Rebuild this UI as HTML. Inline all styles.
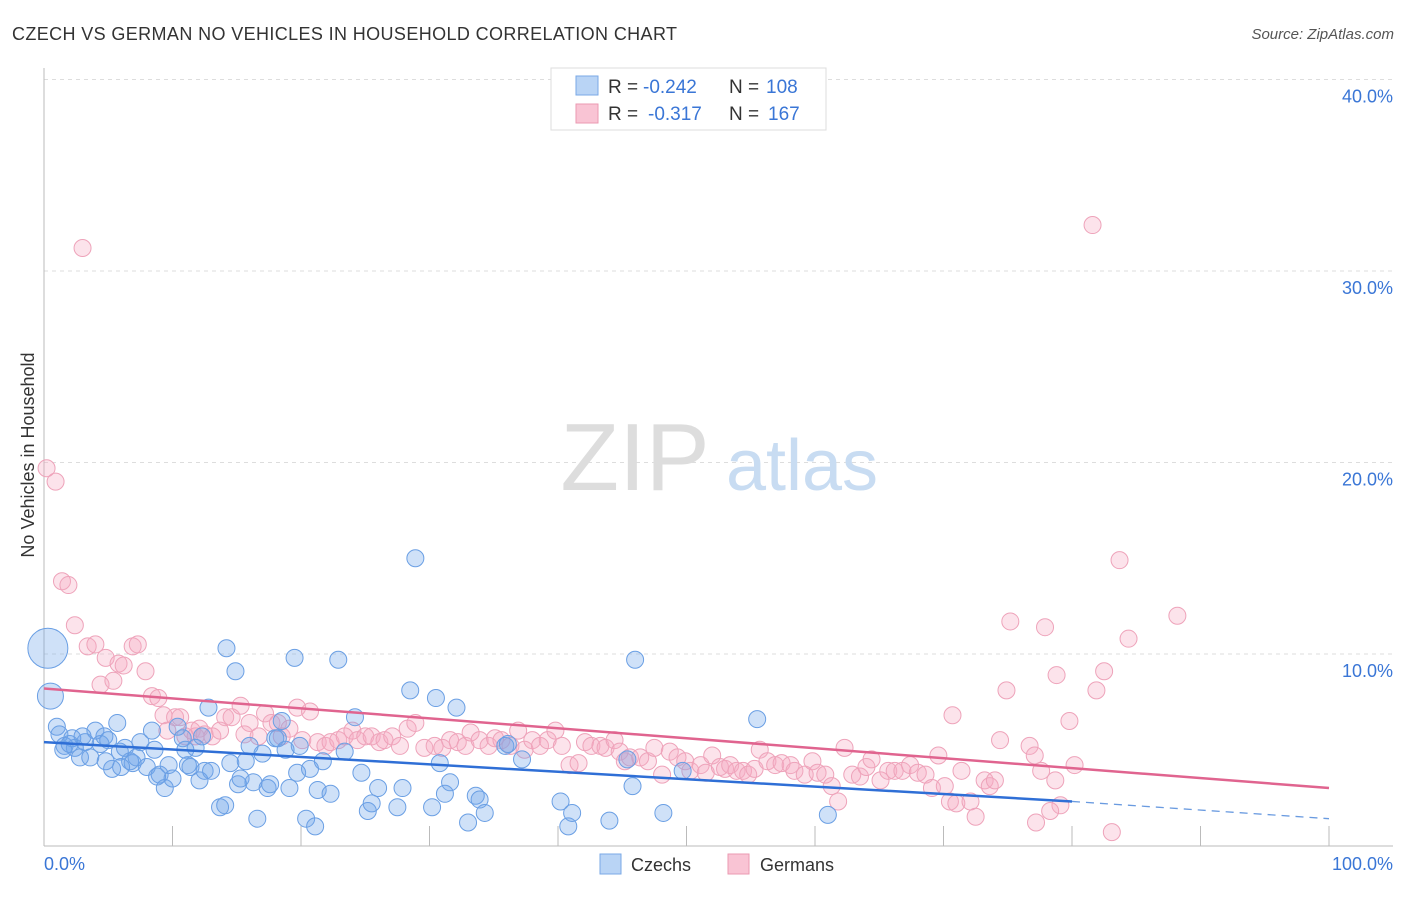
<!DOCTYPE html>
<html><head><meta charset="utf-8"><style>
body{margin:0;background:#fff;font-family:"Liberation Sans",sans-serif;}
svg text{font-family:"Liberation Sans",sans-serif;}
</style></head><body>
<svg width="1406" height="892" xmlns="http://www.w3.org/2000/svg">
<text x="12" y="40" font-size="18" fill="#333" textLength="665">CZECH VS GERMAN NO VEHICLES IN HOUSEHOLD CORRELATION CHART</text>
<text x="1394" y="39" font-size="15" fill="#555" font-style="italic" text-anchor="end">Source: ZipAtlas.com</text>
<g id="grid"></g>
<g>
<text x="635" y="490" font-size="96" fill="#ddd" font-family="Liberation Serif" text-anchor="middle">ZIP</text>
<text x="802" y="490" font-size="72" fill="#c8dcf2" text-anchor="middle">atlas</text>
</g>
<g id="axes"></g>
<g id="pts"></g>
<g id="trend"></g>
<text transform="translate(34,455) rotate(-90)" font-size="18" fill="#333" text-anchor="middle">No Vehicles in Household</text>
<g>
<rect x="551" y="68" width="275" height="62" fill="#fff" stroke="#ddd"/>
<rect x="576" y="76" width="22" height="19" fill="#b9d4f5" stroke="#7aa8e6"/>
<rect x="576" y="104" width="22" height="19" fill="#f9c4d4" stroke="#eb9ab2"/>
<text x="608" y="93" font-size="19" fill="#333">R =</text>
<text x="643" y="93" font-size="19" fill="#3a76d6">-0.242</text>
<text x="729" y="93" font-size="19" fill="#333">N =</text>
<text x="766" y="93" font-size="19" fill="#3a76d6">108</text>
<text x="608" y="120" font-size="19" fill="#333">R =</text>
<text x="648" y="120" font-size="19" fill="#3a76d6">-0.317</text>
<text x="729" y="120" font-size="19" fill="#333">N =</text>
<text x="768" y="120" font-size="19" fill="#3a76d6">167</text>
</g>
<g>
<rect x="600" y="854" width="21" height="20" fill="#b9d4f5" stroke="#7aa8e6"/>
<text x="631" y="871" font-size="18" fill="#333">Czechs</text>
<rect x="728" y="854" width="21" height="20" fill="#f9c4d4" stroke="#eb9ab2"/>
<text x="760" y="871" font-size="18" fill="#333">Germans</text>
</g>
</svg>
<script>
const yTicks=[10,20,30,40];
const yTickLabels=["10.0%","20.0%","30.0%","40.0%"];
const xTickLabels=["0.0%","100.0%"];
const czechX=[0.3,0.5,1.0,1.2,1.6,2.2,2.4,2.8,3.2,3.6,4.0,4.4,4.7,5.3,5.7,5.9,6.3,6.7,6.9,7.5,8.0,8.4,8.6,9.0,9.4,10.0,10.4,10.8,11.2,11.4,11.8,12.1,12.5,12.8,13.0,13.7,14.1,14.2,14.5,14.9,15.1,15.3,15.7,16.0,16.3,16.6,17.0,17.4,17.6,18.0,18.2,18.5,18.8,19.1,19.5,19.7,19.9,20.4,20.7,21.1,21.3,21.7,22.3,22.9,23.4,24.2,24.7,25.2,25.5,26.0,27.5,27.9,28.5,28.9,30.2,30.5,30.8,31.2,31.6,32.1,33.0,33.6,33.9,34.3,35.9,36.1,37.2,40.2,40.8,41.1,44.0,45.4,45.8,46.0,48.2,49.7,55.5,61.0,1.5,3.0,5.0,7.2,9.7,12.3,2.0,4.8,6.0,8.8,11.0];
const czechY=[10.3,7.8,6.2,5.8,5.2,5.6,5.1,4.6,5.4,4.6,6.0,5.3,5.7,4.0,6.4,4.9,5.1,4.4,4.3,5.4,4.1,6.0,5.0,3.7,3.0,3.5,6.2,5.6,4.2,4.1,5.1,3.4,3.9,7.2,3.9,2.0,2.1,10.3,4.3,9.1,3.2,3.5,4.4,5.2,3.3,1.4,4.8,3.0,3.2,5.6,5.6,6.5,5.0,3.0,9.8,3.8,5.2,1.4,4.0,1.0,2.9,4.4,2.7,9.7,4.9,6.7,3.8,1.8,2.2,3.0,2.0,3.0,8.1,15.0,2.0,7.7,4.3,2.7,3.3,7.2,1.2,2.6,2.4,1.7,5.2,5.3,4.5,2.3,1.0,1.7,1.3,4.5,3.1,9.7,1.7,3.9,6.6,1.6,5.0,5.7,5.5,4.6,4.2,5.7,5.3,4.4,4.1,3.6,5.0];
const germanX=[0.2,0.9,1.4,1.9,2.4,3.4,4.0,4.4,4.8,5.4,5.8,6.2,6.9,7.3,7.9,8.4,8.9,9.3,9.6,10.2,10.6,11.0,11.5,11.8,12.1,12.5,13.1,13.7,14.1,14.6,15.3,15.6,16.0,16.7,17.2,17.7,18.2,18.5,19.1,19.7,20.1,20.7,21.3,21.9,22.3,22.9,23.4,24.0,24.4,25.0,25.5,26.1,26.5,27.1,27.7,28.3,28.9,29.6,30.4,31.0,31.6,32.2,32.8,33.2,33.9,34.6,35.1,35.6,36.3,36.9,37.4,38.0,38.6,39.2,39.8,40.3,40.9,41.6,42.1,42.6,43.3,43.7,44.4,44.8,45.2,45.6,46.4,47.0,47.5,48.1,48.7,49.3,49.9,50.3,51.1,51.5,52.0,52.6,53.0,53.4,53.9,54.4,54.8,55.3,55.7,56.3,56.9,57.4,58.1,58.4,59.2,59.8,60.2,60.8,61.3,61.8,62.3,62.9,63.5,64.0,64.4,65.1,65.7,66.2,66.8,67.4,68.0,68.6,69.1,69.6,70.1,70.5,71.0,71.4,72.1,72.5,73.2,73.6,74.0,74.4,74.9,75.2,76.7,77.1,77.6,77.9,78.7,79.1,79.8,80.2,81.6,81.9,82.5,83.1,83.7,84.4,88.2,3.0,78.8,70.7,77.2,78.3];
const germanY=[19.7,19.0,13.8,13.6,11.5,10.4,10.5,8.4,9.8,8.6,9.5,9.4,10.4,10.5,9.1,7.8,7.7,6.8,6.0,6.7,6.7,5.7,6.0,5.7,6.1,5.8,5.7,6.0,6.7,6.7,7.3,5.8,6.4,5.7,6.9,6.4,6.4,5.7,6.1,7.2,5.5,7.0,5.4,5.2,5.4,5.5,5.7,6.0,5.5,5.7,5.7,5.4,5.5,5.7,5.2,6.1,6.4,5.1,5.2,5.1,5.5,5.4,5.2,5.9,5.5,5.2,5.6,5.5,5.2,6.0,5.0,5.5,5.2,5.5,6.0,5.2,4.2,4.3,5.4,5.2,5.2,5.1,5.5,4.9,4.4,4.6,4.6,4.4,5.1,3.7,4.9,4.6,4.4,3.9,4.2,3.8,4.7,4.1,4.0,4.2,3.9,3.9,3.7,4.0,5.0,4.4,4.2,4.3,4.2,3.9,3.7,4.4,3.8,3.7,3.1,2.3,5.1,3.7,3.6,4.1,4.5,3.4,3.9,3.9,3.9,4.2,3.8,3.7,3.0,4.7,3.1,2.3,2.2,3.9,2.3,1.5,3.4,3.1,3.4,5.5,8.1,11.7,5.2,4.7,3.9,11.4,3.4,2.1,6.5,4.2,32.4,8.1,9.1,0.7,14.9,10.8,12.0,31.2,8.9,6.8,1.2,1.8];
const czechTrend=[5.4,2.3,1.4];   // at x=0, 80, 100
const germanTrend=[8.2,3.0];      // at x=0, 100
const NS="http://www.w3.org/2000/svg";
const X=v=>44+v*12.85, Y=v=>845.5-v*19.15;
function mk(t,a,p){const e=document.createElementNS(NS,t);for(const k in a)e.setAttribute(k,a[k]);p.appendChild(e);return e;}
const grid=document.getElementById('grid'),axes=document.getElementById('axes'),pts=document.getElementById('pts'),tr=document.getElementById('trend');
yTicks.forEach((v,i)=>{
 const l=mk('line',{x1:44,x2:1393,y1:Y(v),y2:Y(v),stroke:'#ddd','stroke-dasharray':'4,4'},grid);
 
 
 const t=mk('text',{x:1393,y:Y(v)+23,'font-size':18,fill:'#3a76d6','text-anchor':'end'},axes);
 t.textContent=yTickLabels[i];
 
 
});
mk('line',{x1:44,x2:44,y1:68,y2:846,stroke:'#bbb'},axes);
mk('line',{x1:44,x2:1393,y1:846,y2:846,stroke:'#bbb'},axes);
for(let i=1;i<=10;i++){mk('line',{x1:X(i*10),x2:X(i*10),y1:826,y2:846,stroke:'#bbb'},axes);}
const xl0=mk('text',{x:44,y:870,'font-size':18,fill:'#3a76d6'},axes);xl0.textContent=xTickLabels[0];


const xl1=mk('text',{x:1393,y:870,'font-size':18,fill:'#3a76d6','text-anchor':'end'},axes);xl1.textContent=xTickLabels[1];


germanX.forEach((x,i)=>{
 const c=mk('circle',{cx:X(x),cy:Y(germanY[i]),r:8.5,fill:'rgba(246,170,195,0.33)',stroke:'#eea3ba','stroke-width':1},pts);
 
 
});
czechX.forEach((x,i)=>{
 const r=i==0?20:(i==1?13:8.5);
 const c=mk('circle',{cx:X(x),cy:Y(czechY[i]),r:r,fill:'rgba(110,165,235,0.33)',stroke:'#6a9fe4','stroke-width':1},pts);
 
 
});
const g=mk('line',{x1:X(0),y1:Y(germanTrend[0]),x2:X(100),y2:Y(germanTrend[1]),stroke:'#e0648f','stroke-width':2.5},tr);


const c1=mk('line',{x1:X(0),y1:Y(czechTrend[0]),x2:X(80),y2:Y(czechTrend[1]),stroke:'#2f6fd6','stroke-width':2.5},tr);


const c2=mk('line',{x1:X(80),y1:Y(czechTrend[1]),x2:X(100),y2:Y(czechTrend[2]),stroke:'#6a9be0','stroke-width':1.3,'stroke-dasharray':'8,6'},tr);


</script>
</body></html>
